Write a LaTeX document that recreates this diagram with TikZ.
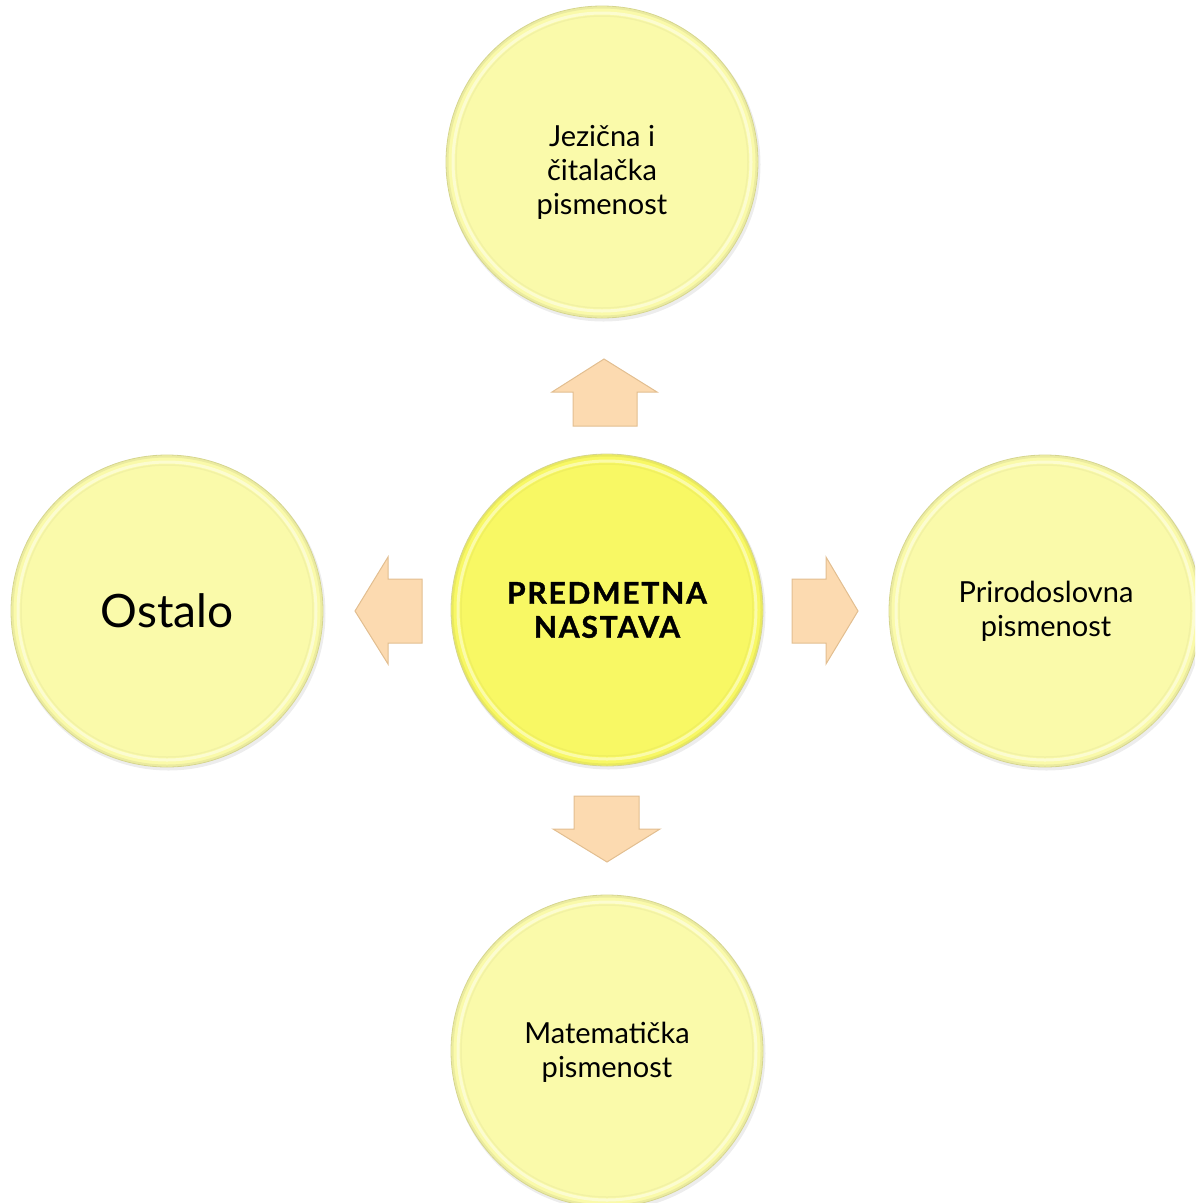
\documentclass[tikz,border=0pt]{standalone}
\usepackage{fontspec}
\setmainfont{Lato}
\newfontfamily\corefont[FakeBold=1.2, LetterSpace=6]{Lato Bold}
\definecolor{bubblefill}{HTML}{FAFAAA}
\definecolor{corefill}{HTML}{F8F864}
\definecolor{bubbleedge}{HTML}{D6D690}
\definecolor{arrowfill}{HTML}{FCDAB0}
\definecolor{arrowedge}{HTML}{E2BE90}
\begin{document}
\begin{tikzpicture}[x=1pt,y=-1pt,
  bubble/.style={circle, minimum size=312pt, inner sep=0pt, fill=bubblefill,
    draw=bubbleedge, line width=0.8pt},
  core/.style={bubble, fill=corefill},
  label/.style={align=center, font=\fontsize{29}{34}\selectfont},
  corelabel/.style={align=center, font=\corefont\fontsize{30}{34}\selectfont},
  blockarrow/.style={fill=arrowfill, draw=arrowedge, line width=1pt, line join=miter}]
\useasboundingbox (0,0) rectangle (1195,1203);
\clip (0,0) rectangle (1195,1203);

% soft shadows
\foreach \cx/\cy in {602/162, 167/611, 607/610, 1045/611, 607/1051}
  \fill[black, opacity=0.07] (\cx+1.5,\cy+2.5) circle (157pt);

\node[bubble] (top) at (602,162) {};
\node[bubble] (left) at (167,611) {};
\node[core] (core) at (607,610) {};
\node[bubble] (right) at (1045,611) {};
\node[bubble] (bottom) at (607,1051) {};

% subtle bevel
\foreach \n in {top,left,core,right,bottom}{
  \draw[black, opacity=0.06, line width=2pt] (\n.center) circle (154.5pt);
  \draw[white, opacity=0.45, line width=3pt] (\n.center) circle (149pt);
  \draw[black, opacity=0.03, line width=1.5pt] (\n.center) circle (146pt);
}

% labels
\node[label] (toplabel) at (602,172) {Jezična i\\čitalačka\\pismenost};
\node[font=\fontsize{46}{50}\selectfont] (leftlabel) at (167,611) {Ostalo};
\node[corelabel] (corelab) at (607,610) {PREDMETNA\\NASTAVA};
\node[label] (rightlabel) at (1046,611) {Prirodoslovna\\pismenost};
\node[label] (bottomlabel) at (607,1052) {Matematička\\pismenost};

% block arrows
\draw[blockarrow] (573,426) -- (573,392) -- (552,392) -- (604,359) -- (657,392) -- (637,392) -- (637,426) -- cycle;
\draw[blockarrow] (422,579) -- (388,579) -- (388,557) -- (355,611) -- (388,664) -- (388,643) -- (422,643) -- cycle;
\draw[blockarrow] (792,579) -- (826,579) -- (826,557) -- (858,611) -- (826,664) -- (826,643) -- (792,643) -- cycle;
\draw[blockarrow] (574,796) -- (639,796) -- (639,829) -- (660,829) -- (607,862) -- (553,829) -- (574,829) -- cycle;
\end{tikzpicture}
\end{document}
